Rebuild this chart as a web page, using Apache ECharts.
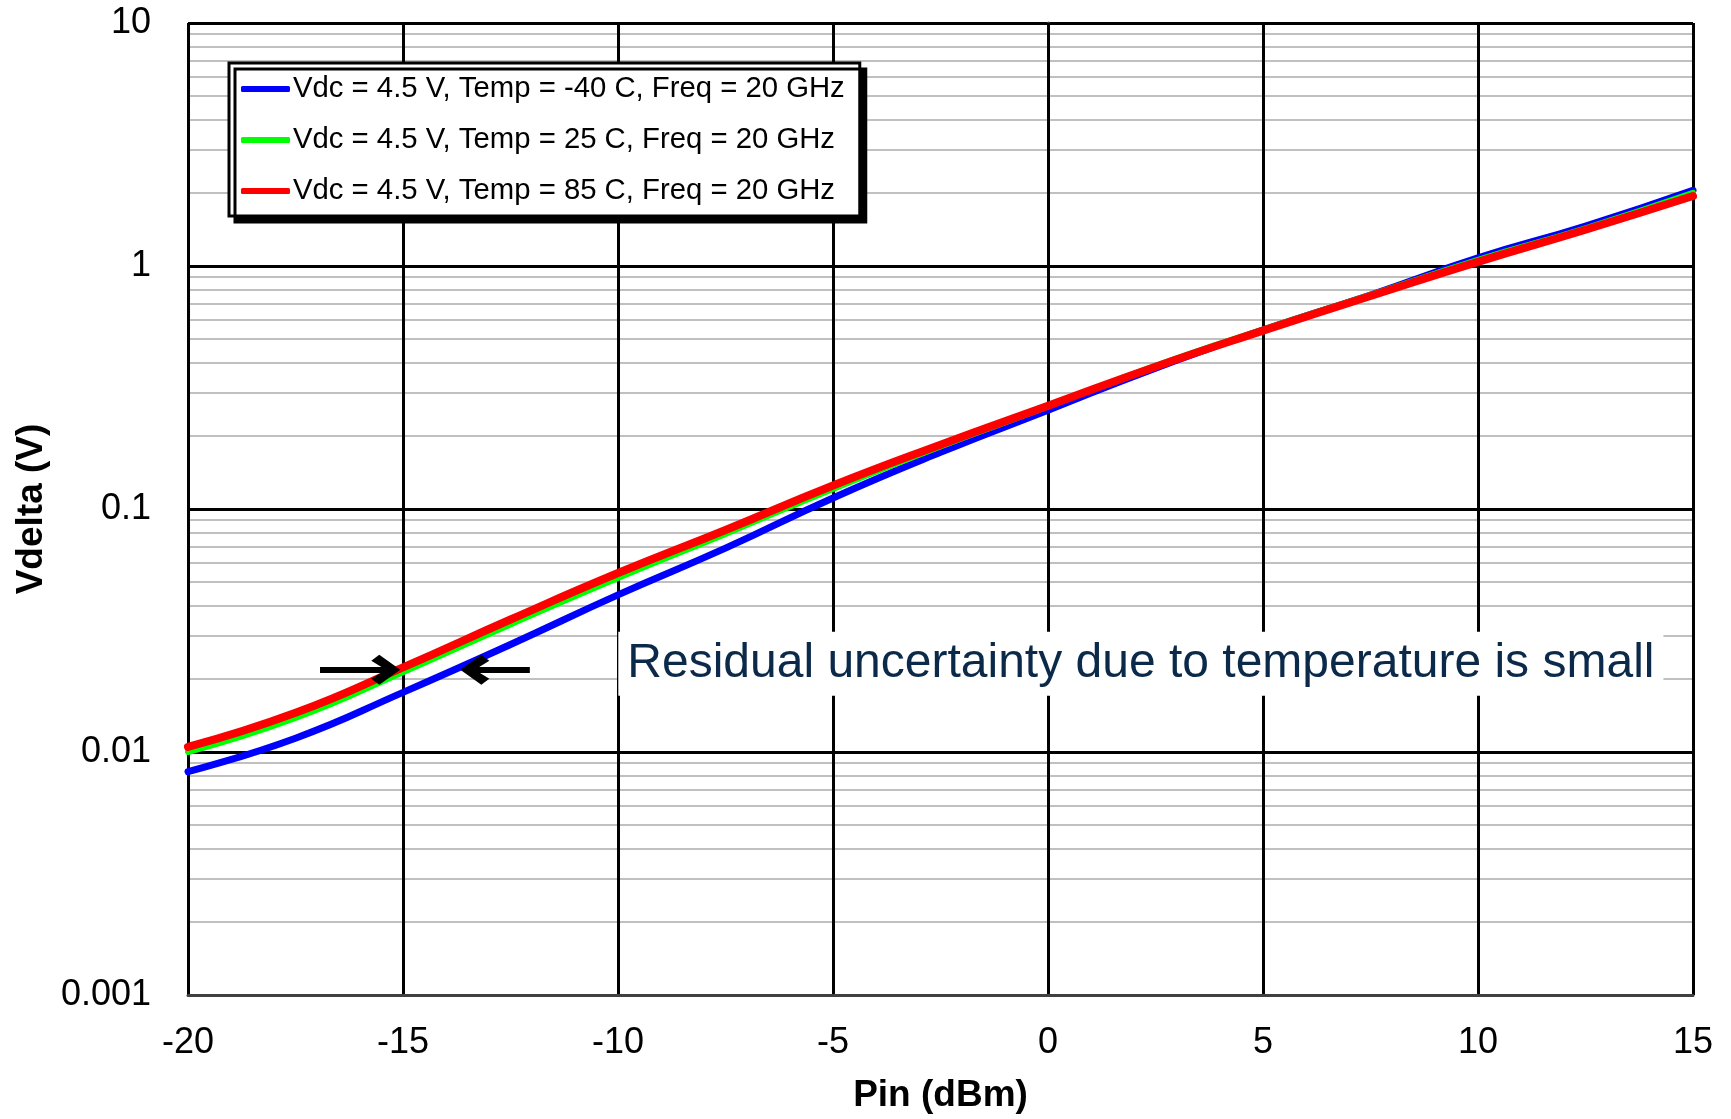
<!DOCTYPE html>
<html>
<head>
<meta charset="utf-8">
<script src="https://cdn.jsdelivr.net/npm/echarts@6/dist/echarts.min.js"></script>
<style>
html,body{margin:0;padding:0;background:#fff;}
#chart{width:1731px;height:1119px;}
</style>
</head>
<body>
<div id="chart"></div>
<script>
// ---- data ----
const pinDbm = [-20, -17.5, -15, -12.5, -10, -7.5, -5, -2.5, 0, 2.5, 5, 7.5, 10, 12.5, 15];
const vdeltaM40 = [0.0083, 0.0114, 0.0176, 0.0277, 0.0443, 0.069, 0.111, 0.171, 0.255, 0.380, 0.545, 0.760, 1.08, 1.46, 2.05];
const vdelta25  = [0.0100, 0.0138, 0.0213, 0.0335, 0.052, 0.079, 0.121, 0.181, 0.264, 0.388, 0.548, 0.760, 1.06, 1.43, 2.00];
const vdelta85  = [0.0105, 0.0145, 0.0223, 0.0351, 0.0545, 0.082, 0.125, 0.184, 0.266, 0.385, 0.542, 0.753, 1.04, 1.41, 1.94];
const seriesNames = [
  'Vdc = 4.5 V, Temp = -40 C, Freq = 20 GHz',
  'Vdc = 4.5 V, Temp = 25 C, Freq = 20 GHz',
  'Vdc = 4.5 V, Temp = 85 C, Freq = 20 GHz'
];
const xTicks = [-20, -15, -10, -5, 0, 5, 10, 15];
const yTicks = [0.001, 0.01, 0.1, 1, 10];
const annotationText = 'Residual uncertainty due to temperature is small';
const annotationPos = [2.16, 0.0231];
const arrowY = 0.0218;
const arrowLeft = [-16.93, -15.40];   // tail, head (Pin)
const arrowRight = [-12.05, -13.33];  // tail, head (Pin)

const FONT = '"Liberation Sans", Arial, Helvetica, sans-serif';
const chevron = 'path://M50,0 L100,58 L80,80 L50,40 L20,80 L0,58 Z';

function pairs(xs, ys) { return xs.map((x, i) => [x, ys[i]]); }

const chart = echarts.init(document.getElementById('chart'), null, {renderer: 'canvas'});

const lineSeries = (name, ys, color, width) => ({
  name: name,
  type: 'line',
  data: pairs(pinDbm, ys),
  smooth: 0.5,
  symbol: 'none',
  lineStyle: {color: color, width: width, cap: 'round'},
  itemStyle: {color: color},
  z: 3
});

const option = {
  animation: false,
  backgroundColor: '#ffffff',
  textStyle: {fontFamily: FONT},
  grid: {left: 188, top: 23, right: 38, bottom: 120, containLabel: false},
  legend: {
    data: seriesNames,
    orient: 'vertical',
    left: 229,
    top: 63,
    icon: 'roundRect',
    itemWidth: 49,
    itemHeight: 6,
    itemGap: 21,
    padding: [11, 15, 10, 12],
    backgroundColor: '#ffffff',
    borderColor: '#000000',
    borderWidth: 3,
    borderRadius: 0,
    shadowColor: '#000000',
    shadowBlur: 0,
    shadowOffsetX: 6,
    shadowOffsetY: 6,
    textStyle: {fontFamily: FONT, fontSize: 29.3, color: '#000', lineHeight: 30, padding: [0, 0, 0, -2]},
    selectedMode: false
  },
  xAxis: {
    type: 'value',
    min: -20,
    max: 15,
    interval: 5,
    z: 1,
    name: 'Pin (dBm)',
    nameLocation: 'middle',
    nameGap: 82,
    nameTextStyle: {fontFamily: FONT, fontSize: 37, fontWeight: 'bold', color: '#000'},
    axisLine: {show: true, onZero: false, lineStyle: {color: '#404040', width: 3}},
    axisTick: {show: false},
    axisLabel: {fontFamily: FONT, fontSize: 36, color: '#000', margin: 30,
      formatter: v => xTicks.includes(v) ? String(v) : ''},
    splitLine: {show: true, lineStyle: {color: '#000', width: 3}}
  },
  yAxis: {
    type: 'log',
    logBase: 10,
    min: yTicks[0],
    max: yTicks[yTicks.length - 1],
    z: 0,
    name: 'Vdelta (V)',
    nameLocation: 'middle',
    nameGap: 138,
    nameRotate: 90,
    nameTextStyle: {fontFamily: FONT, fontSize: 37, fontWeight: 'bold', color: '#000'},
    axisLine: {show: true, lineStyle: {color: '#404040', width: 3}},
    axisTick: {show: false},
    axisLabel: {fontFamily: FONT, fontSize: 36, color: '#000', margin: 37,
      formatter: v => String(+v.toPrecision(3))},
    splitLine: {show: true, lineStyle: {color: '#000', width: 3}},
    minorTick: {show: false, splitNumber: 9},
    minorSplitLine: {show: true, lineStyle: {color: '#c0c0c0', width: 2}}
  },
  series: [
    lineSeries(seriesNames[0], vdeltaM40, '#0000ff', 7),
    lineSeries(seriesNames[1], vdelta25, '#00ff00', 6),
    lineSeries(seriesNames[2], vdelta85, '#ff0000', 8),
    {
      name: 'annotation',
      type: 'line',
      data: [],
      z: 4,
      silent: true,
      markLine: {
        silent: true,
        animation: false,
        symbol: ['none', chevron],
        symbolSize: [30, 29],
        label: {show: false},
        lineStyle: {color: '#000', width: 6, type: 'solid'},
        emphasis: {disabled: true},
        data: [
          [{coord: [arrowLeft[0], arrowY]}, {coord: [arrowLeft[1], arrowY]}],
          [{coord: [arrowRight[0], arrowY]}, {coord: [arrowRight[1], arrowY]}]
        ]
      },
      markPoint: {
        silent: true,
        symbol: 'rect',
        symbolSize: 1,
        itemStyle: {color: 'rgba(0,0,0,0)'},
        label: {
          show: true,
          position: 'inside',
          formatter: annotationText,
          fontFamily: FONT,
          fontSize: 48,
          color: '#0b2a4a',
          backgroundColor: '#ffffff',
          padding: [8, 9, 8, 9]
        },
        data: [{coord: annotationPos}]
      }
    }
  ]
};

chart.setOption(option);
</script>
</body>
</html>
